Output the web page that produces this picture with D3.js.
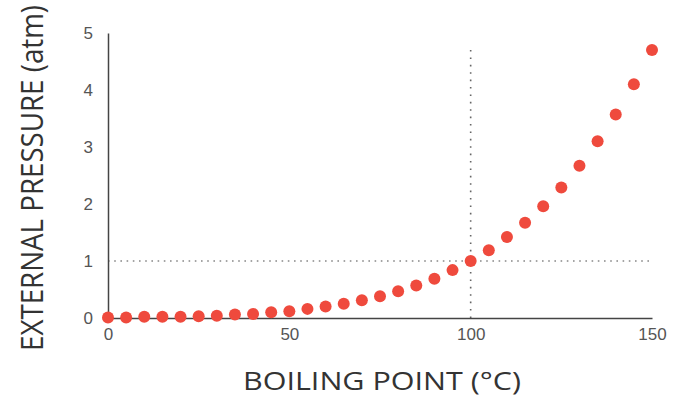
<!DOCTYPE html>
<html>
<head>
<meta charset="utf-8">
<script src="https://cdn.jsdelivr.net/npm/d3@7"></script>
<style>
  body { margin: 0; background: #fff; }
  svg { font-family: "Open Sans", sans-serif; }
</style>
</head>
<body>
<svg id="chart"></svg>
<script>
// boiling point (°C) vs external pressure (atm)
const temps = [0, 5, 10, 15, 20, 25, 30, 35, 40, 45, 50, 55, 60, 65, 70, 75,
               80, 85, 90, 95, 100, 105, 110, 115, 120, 125, 130, 135, 140, 145, 150];
const pressures = [0.01, 0.01, 0.02, 0.02, 0.02, 0.03, 0.04, 0.06, 0.07, 0.10, 0.12, 0.16, 0.20, 0.25, 0.31, 0.38,
                   0.47, 0.57, 0.69, 0.84, 1.0, 1.19, 1.42, 1.67, 1.96, 2.29, 2.67, 3.10, 3.57, 4.10, 4.70];
const xTicks = [0, 50, 100, 150];
const yTicks = [0, 1, 2, 3, 4, 5];

const width = 679;
const height = 399;
const margin = { top: 33, right: 27, bottom: 81, left: 108 };

const svg = d3.select("#chart")
  .attr("width", width)
  .attr("height", height);

const xScale = d3.scaleLinear()
  .domain([0, 150])
  .range([margin.left, width - margin.right]);

const yScale = d3.scaleLinear()
  .domain([0, 5])
  .range([height - margin.bottom, margin.top]);

let drawGuides = () => {
  // dotted reference lines at 100 °C / 1 atm
  svg.append("line")
    .attr("x1", xScale(0)).attr("x2", xScale(150))
    .attr("y1", yScale(1)).attr("y2", yScale(1))
    .attr("stroke", "#888")
    .attr("stroke-width", 1.6)
    .attr("stroke-dasharray", "1.6 4.6");

  svg.append("line")
    .attr("x1", xScale(100)).attr("x2", xScale(100))
    .attr("y1", yScale(0)).attr("y2", yScale(4.75))
    .attr("stroke", "#666")
    .attr("stroke-width", 1.6)
    .attr("stroke-dasharray", "1.6 5.8");
};

let drawAxis = () => {
  let xAxis = d3.axisBottom(xScale)
    .tickValues(xTicks)
    .tickFormat(d3.format("d"))
    .tickSize(0)
    .tickPadding(10);
  let yAxis = d3.axisLeft(yScale)
    .tickValues(yTicks)
    .tickFormat(d3.format("d"))
    .tickSize(0)
    .tickPadding(15);

  let gx = svg.append("g")
    .attr("transform", `translate(0,${yScale(0)})`)
    .call(xAxis);
  let gy = svg.append("g")
    .attr("transform", `translate(${xScale(0)},0)`)
    .call(yAxis);

  [gx, gy].forEach(g => {
    g.select(".domain").attr("stroke", "#444").attr("stroke-width", 1.5);
    g.selectAll("text")
      .attr("fill", "#555")
      .style("font-size", "17px");
  });

  svg.append("text")
    .attr("x", 382)
    .attr("y", 390)
    .attr("text-anchor", "middle")
    .attr("fill", "#333")
    .attr("textLength", 278)
    .attr("lengthAdjust", "spacingAndGlyphs")
    .style("font-size", "26px")
    .text("BOILING POINT (°C)");

  // the source image is a bit stretched sideways
  svg.append("text")
    .attr("transform", "translate(43,178) scale(1.12,1) rotate(-90)")
    .attr("text-anchor", "middle")
    .attr("fill", "#333")
    .attr("textLength", 346)
    .attr("lengthAdjust", "spacingAndGlyphs")
    .style("font-size", "27px")
    .text("EXTERNAL PRESSURE (atm)");
};

let drawDots = () => {
  svg.selectAll(".dot")
    .data(temps)
    .enter()
    .append("circle")
    .attr("class", "dot")
    .attr("cx", d => xScale(d))
    .attr("cy", (d, i) => yScale(pressures[i]))
    .attr("r", 6)
    .attr("fill", "#ef4a3d");
};

drawGuides();
drawAxis();
drawDots();
</script>
</body>
</html>
